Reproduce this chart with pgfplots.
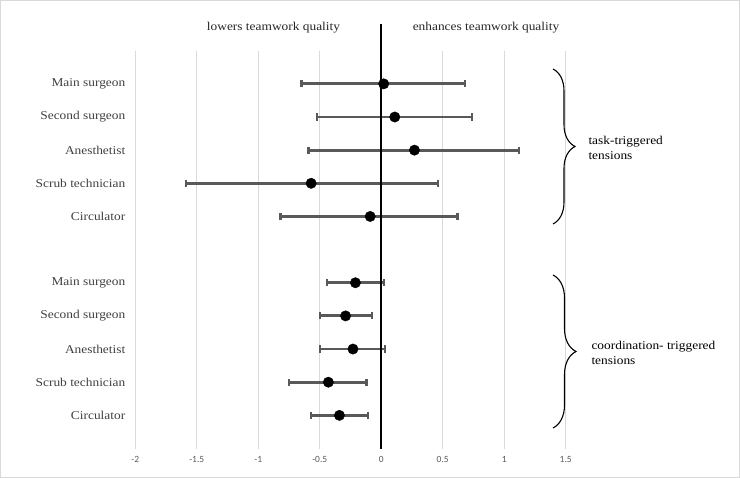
\documentclass[border=0pt]{standalone}
\usepackage{fontspec}
\setmainfont{Liberation Serif}[FakeStretch=1.12]
\newfontfamily\tickfont{Carlito}
\usepackage{pgfplots}
\pgfplotsset{compat=1.18}
\usepackage{pgfplotstable}
\usetikzlibrary{decorations.pathreplacing}

\definecolor{barcol}{HTML}{595959}
\definecolor{gridcol}{HTML}{D9D9D9}
\definecolor{labcol}{HTML}{404040}

% y = row, m = mean, lo/hi = interval ends
\pgfplotstableread{
y  m      lo     hi
11  0.02  -0.65   0.68
10  0.11  -0.52   0.74
9   0.27  -0.59   1.12
8  -0.57  -1.59   0.46
7  -0.09  -0.82   0.62
}\taskdata
\pgfplotstableread{
y  m      lo     hi
5  -0.21  -0.44   0.02
4  -0.29  -0.50  -0.075
3  -0.23  -0.50   0.03
2  -0.43  -0.75  -0.12
1  -0.34  -0.57  -0.11
}\coorddata

\pgfplotsset{
  every error bar/.append style={line width=2.8bp, draw=barcol},
  ci/.style={only marks, mark=*, mark size=5.2bp, black,
    error bars/x dir=both, error bars/x explicit,
    error bars/error mark=|,
    error bars/error mark options={line width=2.4bp, mark size=3.6bp, draw=barcol}},
}

\begin{document}
\begin{tikzpicture}
\draw[gridcol, line width=1bp] (0.5bp,0.5bp) rectangle (739.5bp,477.5bp);
\begin{axis}[
  at={(135.3bp,29.5bp)}, anchor=south west,
  scale only axis, width=430.4bp, height=397.8bp,
  xmin=-2, xmax=1.5, ymin=0, ymax=12,
  xtick={-2,-1.5,-1,-0.5,0,0.5,1,1.5},
  ytick={1,2,3,4,5,7,8,9,10,11},
  yticklabels={Circulator,Scrub technician,Anesthetist,Second surgeon,Main surgeon,
               Circulator,Scrub technician,Anesthetist,Second surgeon,Main surgeon},
  xmajorgrids, major grid style={draw=gridcol, line width=1bp},
  axis line style={draw=none},
  major tick length=0pt,
  /pgf/number format/assume math mode=true,
  xticklabel style={font=\tickfont\fontsize{9.5}{11}\selectfont, text=barcol, yshift=-4bp},
  yticklabel style={font=\fontsize{12}{14}\selectfont, text=labcol, xshift=-6.5bp},
  clip=false,
]
\addplot[ci] table[x=m, y=y,
  x error plus expr=\thisrow{hi}-\thisrow{m},
  x error minus expr=\thisrow{m}-\thisrow{lo}] {\taskdata};
\addplot[ci] table[x=m, y=y,
  x error plus expr=\thisrow{hi}-\thisrow{m},
  x error minus expr=\thisrow{m}-\thisrow{lo}] {\coorddata};
\draw[black, line width=2bp] (axis cs:0,0) -- (axis cs:0,12.8);
\end{axis}

\node[text=black!85, font=\fontsize{12}{14}\selectfont] at (273.5bp,450.3bp) {lowers teamwork quality};
\node[text=black!85, font=\fontsize{12}{14}\selectfont] at (486bp,450.3bp) {enhances teamwork quality};

\draw[decorate, decoration={brace, amplitude=22bp}, line width=1.1bp] (553bp,409bp) -- (553bp,254bp);
\draw[decorate, decoration={brace, amplitude=23bp}, line width=1.1bp] (553bp,203bp) -- (553bp,50bp);

\node[anchor=west, align=left, font=\fontsize{12}{15}\selectfont] at (585bp,330.5bp) {task-triggered\\tensions};
\node[anchor=west, align=left, font=\fontsize{12}{15}\selectfont] at (588bp,125bp) {coordination- triggered\\tensions};
\end{tikzpicture}
\end{document}
